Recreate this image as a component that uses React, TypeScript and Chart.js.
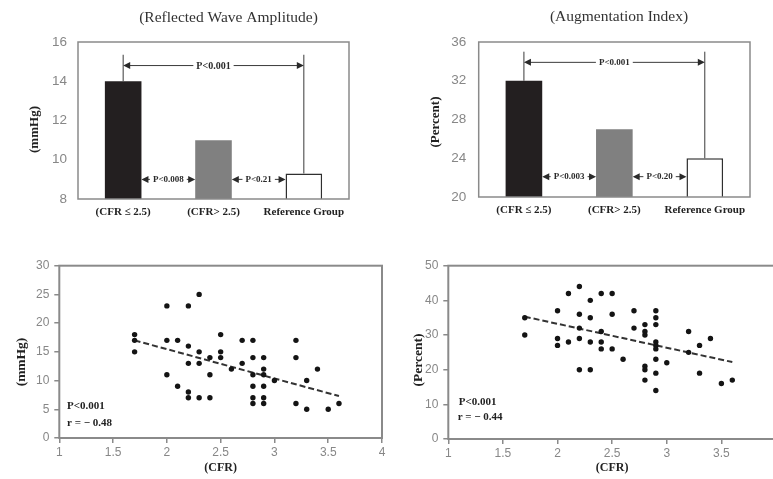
import { useEffect, useRef } from 'react';
import { Chart, registerables } from 'chart.js';
Chart.register(...registerables);

// ---------- DATA ----------
const barCategories = ['(CFR ≤ 2.5)', '(CFR> 2.5)', 'Reference Group'];
const rwaBarValues = [14, 11, 9.3];
const aixBarValues = [32, 27, 24];
const rwaBarTicks = [8, 10, 12, 14, 16];
const aixBarTicks = [20, 24, 28, 32, 36];
// bracket levels (in axis units): [vertical line top, top arrow, lower arrows]
const rwaBracketLevels = [15.35, 14.8, 9.0];
const aixBracketLevels = [35.0, 33.9, 22.1];
const rwaPLabels = ['P<0.001', 'P<0.008', 'P<0.21'];
const aixPLabels = ['P<0.001', 'P<0.003', 'P<0.20'];

const rwaCFR = [1.7, 1.7, 1.7, 2.0, 2.0, 2.0, 2.1, 2.1, 2.2, 2.2, 2.2, 2.2, 2.2, 2.3, 2.3, 2.3, 2.3, 2.4, 2.4, 2.4, 2.5, 2.5, 2.5, 2.6, 2.7, 2.7, 2.8, 2.8, 2.8, 2.8, 2.8, 2.8, 2.9, 2.9, 2.9, 2.9, 2.9, 2.9, 3.0, 3.2, 3.2, 3.2, 3.3, 3.3, 3.4, 3.5, 3.6];
const rwaMmHg = [18, 17, 15, 23, 17, 11, 17, 9, 23, 16, 13, 8, 7, 25, 15, 13, 7, 14, 11, 7, 18, 15, 14, 12, 17, 13, 17, 14, 11, 9, 7, 6, 14, 12, 11, 9, 7, 6, 10, 17, 14, 6, 10, 5, 12, 5, 6];
const rwaTrendCFR = [1.7, 3.6];
const rwaTrendMmHg = [17.0, 7.3];

const aixCFR = [1.7, 1.7, 2.0, 2.0, 2.0, 2.1, 2.1, 2.2, 2.2, 2.2, 2.2, 2.2, 2.3, 2.3, 2.3, 2.3, 2.4, 2.4, 2.4, 2.4, 2.5, 2.5, 2.5, 2.6, 2.7, 2.7, 2.8, 2.8, 2.8, 2.8, 2.8, 2.8, 2.9, 2.9, 2.9, 2.9, 2.9, 2.9, 2.9, 2.9, 2.9, 3.0, 3.2, 3.2, 3.3, 3.3, 3.4, 3.5, 3.6];
const aixPercent = [35, 30, 37, 29, 27, 42, 28, 44, 36, 32, 29, 20, 40, 35, 28, 20, 42, 31, 28, 26, 42, 36, 26, 23, 37, 32, 33, 31, 30, 21, 20, 17, 37, 35, 33, 28, 27, 26, 23, 19, 14, 22, 31, 25, 27, 19, 29, 16, 17];
const aixTrendCFR = [1.7, 3.6];
const aixTrendPercent = [35.3, 22.2];

const scatterXTicks = [1, 1.5, 2, 2.5, 3, 3.5, 4];
const rwaScatterYTicks = [0, 5, 10, 15, 20, 25, 30];
const aixScatterYTicks = [0, 10, 20, 30, 40, 50];

// ---------- STYLE ----------
const SERIF = "'Liberation Serif', 'Times New Roman', serif";
const SANS = "'Liberation Sans', Arial, sans-serif";
const TICK_COLOR = '#878787';
const FRAME_COLOR = '#8a8a8a';

type TextItem = { text: string; x: number; y: number; font: string; align?: CanvasTextAlign; rotate?: boolean; color?: string };

const textPlugin = (items: TextItem[]) => ({
  id: 'fixedTexts',
  afterDraw(chart: any) {
    const ctx = chart.ctx as CanvasRenderingContext2D;
    ctx.save();
    for (const t of items) {
      ctx.save();
      ctx.font = t.font;
      ctx.fillStyle = t.color || '#222';
      ctx.textAlign = t.align || 'center';
      ctx.textBaseline = 'middle';
      ctx.translate(t.x, t.y);
      if (t.rotate) ctx.rotate(-Math.PI / 2);
      ctx.fillText(t.text, 0, 0);
      ctx.restore();
    }
    ctx.restore();
  },
});

const framePlugin = (width: number) => ({
  id: 'frame',
  afterDatasetsDraw(chart: any) {
    const { ctx, chartArea: a } = chart;
    ctx.save();
    ctx.strokeStyle = FRAME_COLOR;
    ctx.lineWidth = width;
    ctx.strokeRect(a.left, a.top, a.right - a.left, a.bottom - a.top);
    ctx.restore();
  },
});

function drawArrow(ctx: CanvasRenderingContext2D, x1: number, x2: number, y: number, label: string, font: string) {
  ctx.font = font;
  const tw = ctx.measureText(label).width;
  const cx = (x1 + x2) / 2;
  const gap = 3;
  ctx.beginPath();
  ctx.moveTo(x1 + 2, y);
  ctx.lineTo(cx - tw / 2 - gap, y);
  ctx.moveTo(cx + tw / 2 + gap, y);
  ctx.lineTo(x2 - 2, y);
  ctx.stroke();
  const hl = 7, hw = 3.5;
  ctx.beginPath();
  ctx.moveTo(x1, y);
  ctx.lineTo(x1 + hl, y - hw);
  ctx.lineTo(x1 + hl, y + hw);
  ctx.closePath();
  ctx.fill();
  ctx.beginPath();
  ctx.moveTo(x2, y);
  ctx.lineTo(x2 - hl, y - hw);
  ctx.lineTo(x2 - hl, y + hw);
  ctx.closePath();
  ctx.fill();
  ctx.textAlign = 'center';
  ctx.textBaseline = 'middle';
  ctx.fillText(label, cx, y + 0.5);
}

const bracketPlugin = (levels: number[], labels: string[], topFont: string, lowFont: string) => ({
  id: 'brackets',
  afterDatasetsDraw(chart: any) {
    const ctx = chart.ctx as CanvasRenderingContext2D;
    const ys = chart.scales.y;
    const bars = chart.getDatasetMeta(0).data as any[];
    const topY = ys.getPixelForValue(levels[0]);
    const arrowY = ys.getPixelForValue(levels[1]);
    const lowY = ys.getPixelForValue(levels[2]);
    ctx.save();
    ctx.strokeStyle = '#3a3a3a';
    ctx.fillStyle = '#2a2a2a';
    ctx.lineWidth = 1;
    for (const b of [bars[0], bars[2]]) {
      ctx.beginPath();
      ctx.moveTo(b.x, topY);
      ctx.lineTo(b.x, b.y);
      ctx.stroke();
    }
    drawArrow(ctx, bars[0].x, bars[2].x, arrowY, labels[0], topFont);
    drawArrow(ctx, bars[0].x + bars[0].width / 2, bars[1].x - bars[1].width / 2, lowY, labels[1], lowFont);
    drawArrow(ctx, bars[1].x + bars[1].width / 2, bars[2].x - bars[2].width / 2, lowY, labels[2], lowFont);
    ctx.restore();
  },
});

function barConfig(values: number[], ticks: number[], p: { yWidth: number; padRight: number; padTop: number; xHeight: number; tickPad: number }, plugins: any[]) {
  return {
    type: 'bar',
    data: {
      labels: barCategories,
      datasets: [
        {
          data: values,
          backgroundColor: ['#231f20', '#808080', '#ffffff'],
          borderColor: ['#231f20', '#808080', '#2f2f2f'],
          borderWidth: [0, 0, 1.5],
          barPercentage: 0.405,
          categoryPercentage: 1,
        },
      ],
    },
    options: {
      animation: false,
      responsive: false,
      maintainAspectRatio: false,
      layout: { padding: { top: p.padTop, right: p.padRight, bottom: 0, left: 0 } },
      plugins: { legend: { display: false }, tooltip: { enabled: false }, title: { display: false } },
      scales: {
        x: {
          grid: { display: false, drawTicks: false },
          border: { display: false },
          ticks: { color: '#222', padding: 7, font: { family: SERIF, size: 11, weight: 'bold' }, maxRotation: 0, autoSkip: false },
          afterFit: (s: any) => { s.height = p.xHeight; },
        },
        y: {
          min: ticks[0],
          max: ticks[ticks.length - 1],
          ticks: { stepSize: ticks[1] - ticks[0], color: TICK_COLOR, padding: p.tickPad, font: { family: SANS, size: 13.5 } },
          grid: { display: false, drawTicks: false },
          border: { display: false },
          afterFit: (s: any) => { s.width = p.yWidth; },
        },
      },
    },
    plugins,
  };
}

function scatterConfig(xs: number[], ys: number[], tx: number[], ty: number[], yTicks: number[], p: { yWidth: number; padRight: number; padTop: number; xHeight: number }, plugins: any[]) {
  const pts = xs.map((x, i) => ({ x, y: ys[i] }));
  const trend = tx.map((x, i) => ({ x, y: ty[i] }));
  return {
    type: 'scatter',
    data: {
      datasets: [
        { type: 'line', data: trend, borderColor: '#333', borderWidth: 2, borderDash: [6, 3], pointRadius: 0, fill: false, order: 2 },
        { data: pts, pointRadius: 2.7, backgroundColor: '#141414', borderWidth: 0, order: 1 },
      ],
    },
    options: {
      animation: false,
      responsive: false,
      maintainAspectRatio: false,
      layout: { padding: { top: p.padTop, right: p.padRight, bottom: 0, left: 0 } },
      plugins: { legend: { display: false }, tooltip: { enabled: false } },
      scales: {
        x: {
          type: 'linear',
          min: scatterXTicks[0],
          max: scatterXTicks[scatterXTicks.length - 1],
          ticks: {
            stepSize: scatterXTicks[1] - scatterXTicks[0],
            color: TICK_COLOR,
            padding: 2,
            font: { family: SANS, size: 12 },
            callback: (v: any) => String(Number(v)),
          },
          grid: { display: true, drawOnChartArea: false, drawTicks: true, tickLength: 5, color: FRAME_COLOR, lineWidth: 1.5 },
          border: { display: false },
          title: { display: true, text: '(CFR)', color: '#222', font: { family: SERIF, size: 12, weight: 'bold' }, padding: { top: 0, bottom: 4 } },
          afterFit: (s: any) => { s.height = p.xHeight; },
        },
        y: {
          min: yTicks[0],
          max: yTicks[yTicks.length - 1],
          ticks: { stepSize: yTicks[1] - yTicks[0], color: TICK_COLOR, padding: 5, font: { family: SANS, size: 12 } },
          grid: { display: true, drawOnChartArea: false, drawTicks: true, tickLength: 5, color: FRAME_COLOR, lineWidth: 1.5 },
          border: { display: false },
          afterFit: (s: any) => { s.width = p.yWidth; },
        },
      },
    },
    plugins,
  };
}

const titleFont = `15.5px ${SERIF}`;
const yTitleFontTop = `bold 13px ${SERIF}`;
const yTitleFontBottom = `bold 13.5px ${SERIF}`;
const noteFont = `bold 11px ${SERIF}`;

function Panel({ left, top, width, height, make }: { left: number; top: number; width: number; height: number; make: () => any }) {
  const ref = useRef<HTMLCanvasElement>(null);
  useEffect(() => {
    const chart = new Chart(ref.current as HTMLCanvasElement, make());
    return () => chart.destroy();
  }, []);
  return <canvas ref={ref} width={width} height={height} style={{ position: 'absolute', left, top, width, height }} />;
}

export default function App() {
  return (
    <div style={{ position: 'absolute', left: 0, top: 0, width: 773, height: 479, overflow: 'hidden', background: '#fff' }}>
      <Panel
        left={0} top={0} width={386} height={240}
        make={() =>
          barConfig(rwaBarValues, rwaBarTicks, { yWidth: 78, padRight: 37, padTop: 42, xHeight: 41, tickPad: 11 }, [
            framePlugin(1.5),
            bracketPlugin(rwaBracketLevels, rwaPLabels, `bold 10px ${SERIF}`, `bold 9px ${SERIF}`),
            textPlugin([
              { text: '(Reflected Wave Amplitude)', x: 228.5, y: 17.5, font: titleFont, color: '#333' },
              { text: '(mmHg)', x: 35, y: 129.5, font: yTitleFontTop, rotate: true },
            ]),
          ])
        }
      />
      <Panel
        left={386} top={0} width={387} height={240}
        make={() =>
          barConfig(aixBarValues, aixBarTicks, { yWidth: 92.7, padRight: 23, padTop: 42, xHeight: 43, tickPad: 12.5 }, [
            framePlugin(1.5),
            bracketPlugin(aixBracketLevels, aixPLabels, `bold 9px ${SERIF}`, `bold 9px ${SERIF}`),
            textPlugin([
              { text: '(Augmentation Index)', x: 233, y: 16.5, font: titleFont, color: '#333' },
              { text: '(Percent)', x: 50, y: 122, font: yTitleFontTop, rotate: true },
            ]),
          ])
        }
      />
      <Panel
        left={0} top={240} width={420} height={239}
        make={() =>
          scatterConfig(rwaCFR, rwaMmHg, rwaTrendCFR, rwaTrendMmHg, rwaScatterYTicks, { yWidth: 59.3, padRight: 38, padTop: 25.7, xHeight: 41 }, [
            framePlugin(2),
            textPlugin([
              { text: '(mmHg)', x: 22, y: 122, font: yTitleFontBottom, rotate: true },
              { text: 'P<0.001', x: 67, y: 166, font: noteFont, align: 'left' },
              { text: 'r = − 0.48', x: 67, y: 183, font: noteFont, align: 'left' },
            ]),
          ])
        }
      />
      <Panel
        left={386} top={240} width={420} height={239}
        make={() =>
          scatterConfig(aixCFR, aixPercent, aixTrendCFR, aixTrendPercent, aixScatterYTicks, { yWidth: 62.3, padRight: 30, padTop: 25.7, xHeight: 40 }, [
            framePlugin(2),
            textPlugin([
              { text: '(Percent)', x: 32.5, y: 120, font: yTitleFontBottom, rotate: true },
              { text: 'P<0.001', x: 72.7, y: 161.7, font: noteFont, align: 'left' },
              { text: 'r = − 0.44', x: 71.7, y: 176.7, font: noteFont, align: 'left' },
            ]),
          ])
        }
      />
    </div>
  );
}
